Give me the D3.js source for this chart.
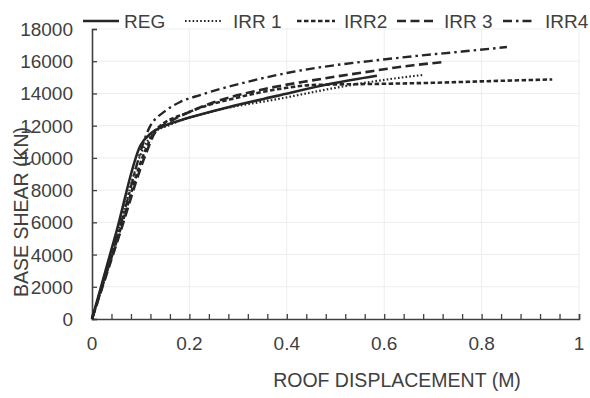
<!DOCTYPE html>
<html>
<head>
<meta charset="utf-8">
<script src="https://cdn.jsdelivr.net/npm/d3@7"></script>
<style>
  html, body { margin: 0; padding: 0; background: #fff; }
  svg { display: block; }
  text { font-family: "Liberation Sans", Arial, sans-serif; fill: #404040; }
</style>
</head>
<body>
<svg id="chart" width="590" height="398"></svg>
<script>
// ---- data ----
const seriesNames = ["REG", "IRR 1", "IRR2", "IRR 3", "IRR4"];

const regDisp  = [0, 0.05, 0.10, 0.12, 0.15, 0.20, 0.28, 0.38, 0.49, 0.585];
const regShear = [0, 5400, 10800, 11500, 12000, 12500, 13150, 13850, 14600, 15100];

const irr1Disp  = [0, 0.052, 0.104, 0.125, 0.16, 0.25, 0.39, 0.50, 0.59, 0.68];
const irr1Shear = [0, 5250, 10500, 11500, 12050, 12900, 13700, 14350, 14800, 15150];

const irr2Disp  = [0, 0.055, 0.11, 0.13, 0.20, 0.30, 0.40, 0.45, 0.60, 0.70, 0.80, 0.945];
const irr2Shear = [0, 5250, 10500, 11700, 12850, 13750, 14350, 14520, 14600, 14660, 14750, 14870];

const irr3Disp  = [0, 0.055, 0.11, 0.13, 0.16, 0.20, 0.25, 0.35, 0.45, 0.556, 0.66, 0.723];
const irr3Shear = [0, 5100, 10200, 11600, 12250, 12850, 13450, 14250, 14800, 15300, 15750, 15950];

const irr4Disp  = [0, 0.06, 0.12, 0.15, 0.181, 0.222, 0.318, 0.40, 0.503, 0.591, 0.667, 0.76, 0.852];
const irr4Shear = [0, 6000, 12000, 12900, 13470, 13900, 14710, 15270, 15770, 16080, 16330, 16600, 16880];

const xTicks = [0, 0.2, 0.4, 0.6, 0.8, 1];
const xTickLabels = ["0", "0.2", "0.4", "0.6", "0.8", "1"];
const yTicks = [0, 2000, 4000, 6000, 8000, 10000, 12000, 14000, 16000, 18000];
const xTitle = "ROOF DISPLACEMENT (M)";
const yTitle = "BASE SHEAR (KN)";

// ---- layout / styles ----
const dashStyles = [null, "1.6,2.2", "4.5,2.5", "9,4.5", "9,4,2.5,4"];
const widths = [2.6, 2.2, 2.6, 2.6, 2.4];
const lineColor = "#262626";

const series = [
  {name: seriesNames[0], d: regDisp,  v: regShear},
  {name: seriesNames[1], d: irr1Disp, v: irr1Shear},
  {name: seriesNames[2], d: irr2Disp, v: irr2Shear},
  {name: seriesNames[3], d: irr3Disp, v: irr3Shear},
  {name: seriesNames[4], d: irr4Disp, v: irr4Shear}
].map((s, i) => ({...s, dash: dashStyles[i], w: widths[i],
  pts: s.d.map((x, j) => [x, s.v[j]])}));

const svg = d3.select("#chart");
const x = d3.scaleLinear().domain([0, 1]).range([92, 579]);
const y = d3.scaleLinear().domain([0, 18000]).range([319, 29]);

// gridlines
const grid = svg.append("g");
grid.selectAll("line.h").data(yTicks.filter(t => t > 0)).join("line")
  .attr("x1", x(0)).attr("x2", x(1))
  .attr("y1", d => y(d)).attr("y2", d => y(d))
  .attr("stroke", "#ededed").attr("stroke-width", 1);
grid.selectAll("line.v").data(xTicks.filter(t => t > 0)).join("line")
  .attr("x1", d => x(d)).attr("x2", d => x(d))
  .attr("y1", y(0)).attr("y2", y(18000))
  .attr("stroke", "#ededed").attr("stroke-width", 1);

// x axis (ticks inward, minor every 0.04)
const xAxis = d3.axisBottom(x)
  .tickValues(d3.range(0, 26).map(i => i * 0.04))
  .tickSize(-5).tickFormat("");
const gx = svg.append("g").attr("transform", `translate(0,${y(0)})`).call(xAxis);
gx.select(".domain").attr("stroke", "#404040").attr("stroke-width", 1.6);
gx.selectAll(".tick line").attr("stroke", "#404040").attr("stroke-width", 1.3);

svg.append("g").selectAll("text").data(xTicks).join("text")
  .attr("x", d => x(d)).attr("y", 350)
  .attr("text-anchor", "middle").attr("font-size", 19)
  .text((d, i) => xTickLabels[i]);

// y axis (ticks inward)
const yAxis = d3.axisLeft(y).tickValues(yTicks).tickSize(-5).tickFormat("");
const gy = svg.append("g").attr("transform", `translate(${x(0)},0)`).call(yAxis);
gy.select(".domain").attr("stroke", "#404040").attr("stroke-width", 1.6);
gy.selectAll(".tick line").attr("stroke", "#404040").attr("stroke-width", 1.3);

svg.append("g").selectAll("text").data(yTicks).join("text")
  .attr("x", 73).attr("y", d => y(d) + 7)
  .attr("text-anchor", "end").attr("font-size", 19)
  .text(d => d);

// titles
svg.append("text").attr("x", 397).attr("y", 387)
  .attr("text-anchor", "middle").attr("font-size", 19.5).text(xTitle);
svg.append("text").attr("transform", "translate(28,212) rotate(-90)")
  .attr("text-anchor", "middle").attr("font-size", 19.5).text(yTitle);

// lines
const line = d3.line().x(d => x(d[0])).y(d => y(d[1])).curve(d3.curveMonotoneX);
svg.append("g").selectAll("path").data(series).join("path")
  .attr("d", d => line(d.pts))
  .attr("fill", "none").attr("stroke", lineColor)
  .attr("stroke-width", d => d.w)
  .attr("stroke-dasharray", d => d.dash)
  .attr("stroke-linecap", "butt");

// legend
const legendPos = [
  {x1: 83, x2: 119, tx: 124},
  {x1: 185, x2: 222, tx: 233},
  {x1: 297, x2: 335, tx: 344},
  {x1: 397, x2: 436, tx: 444},
  {x1: 503, x2: 535, tx: 545}
];
const lg = svg.append("g").selectAll("g").data(series).join("g");
lg.append("line")
  .attr("x1", (d, i) => legendPos[i].x1).attr("x2", (d, i) => legendPos[i].x2)
  .attr("y1", 21).attr("y2", 21)
  .attr("stroke", lineColor).attr("stroke-width", d => d.w)
  .attr("stroke-dasharray", d => d.dash);
lg.append("text")
  .attr("x", (d, i) => legendPos[i].tx).attr("y", 28)
  .attr("font-size", 19).text(d => d.name);
</script>
</body>
</html>
